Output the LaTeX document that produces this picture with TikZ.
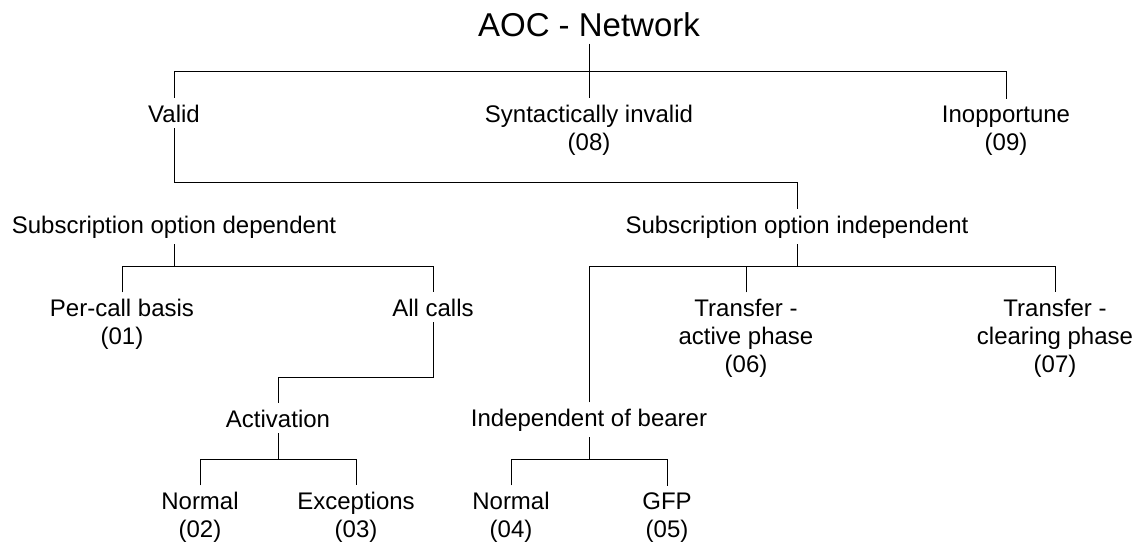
\documentclass[tikz,border=0pt]{standalone}
\usepackage{fontspec}
\setmainfont{Liberation Sans}
\usetikzlibrary{backgrounds}

\tikzset{
  label/.style={font=\fontsize{24}{28}\selectfont, align=center, anchor=base,
                fill=white, inner xsep=2pt, inner ysep=6pt},
  heading/.style={font=\fontsize{33}{38}\selectfont, anchor=base,
                  fill=white, inner xsep=2pt, inner ysep=7pt},
  wire/.style={line width=2.2pt, line cap=rect, line join=miter},
}

\begin{document}
\begin{tikzpicture}[x=1pt, y=-1pt]
  \useasboundingbox (0,0) rectangle (1140,542);

  % tree nodes, placed at the baseline of their last line
  \node[heading] (root)     at (589,36)  {AOC - Network};
  \node[label]   (valid)    at (174,122) {Valid};
  \node[label]   (synt)     at (589,150) {Syntactically invalid\\(08)};
  \node[label]   (inop)     at (1006,150) {Inopportune\\(09)};
  \node[label]   (sod)      at (174,233) {Subscription option dependent};
  \node[label]   (soi)      at (797,233) {Subscription option independent};
  \node[label]   (percall)  at (122,344) {Per-call basis\\(01)};
  \node[label]   (allcalls) at (433,316) {All calls};
  \node[label]   (tact)     at (746,372) {Transfer -\\active phase\\(06)};
  \node[label]   (tclr)     at (1055,372) {Transfer -\\clearing phase\\(07)};
  \node[label]   (activ)    at (278,427) {Activation};
  \node[label]   (indep)    at (589,426) {Independent of bearer};
  \node[label]   (norma)    at (200,537) {Normal\\(02)};
  \node[label]   (exc)      at (356,537) {Exceptions\\(03)};
  \node[label]   (normb)    at (511,537) {Normal\\(04)};
  \node[label]   (gfp)      at (667,537) {GFP\\(05)};

  % heights of the horizontal branch lines
  \coordinate (busA) at (0,71);
  \coordinate (busB) at (0,182);
  \coordinate (busC) at (0,266);
  \coordinate (busD) at (0,377);
  \coordinate (busE) at (0,459);

  \begin{scope}[on background layer, wire]
    \draw (root) -- (synt);
    \draw (valid |- busA) -- (inop |- busA) -- (inop);
    \draw (valid |- busA) -- (valid) -- (valid |- busB) -- (soi |- busB) -- (soi);

    \draw (sod) -- (sod |- busC);
    \draw (percall) -- (percall |- busC) -- (allcalls |- busC) -- (allcalls);
    \draw (allcalls) -- (allcalls |- busD) -- (activ |- busD) -- (activ);
    \draw (activ) -- (activ |- busE);
    \draw (norma) -- (norma |- busE) -- (exc |- busE) -- (exc);

    \draw (soi) -- (soi |- busC);
    \draw (indep) -- (indep |- busC) -- (tclr |- busC) -- (tclr);
    \draw (tact) -- (tact |- busC);
    \draw (indep) -- (indep |- busE);
    \draw (normb) -- (normb |- busE) -- (gfp |- busE) -- (gfp);
  \end{scope}
\end{tikzpicture}
\end{document}
